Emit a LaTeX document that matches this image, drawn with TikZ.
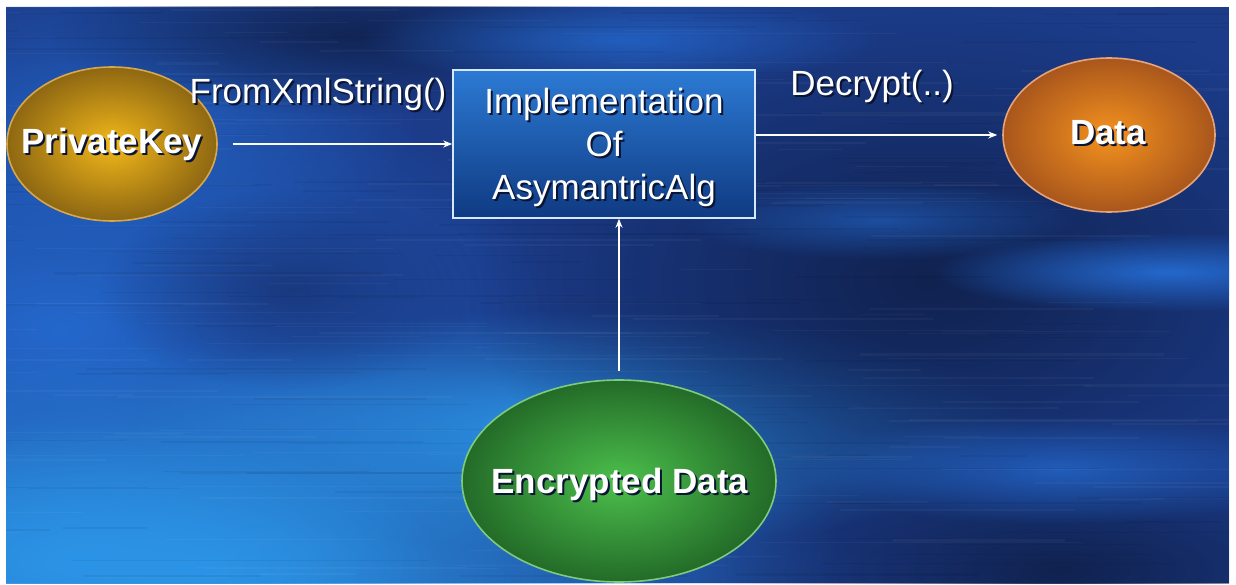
\documentclass[tikz,border=0pt]{standalone}
\usepackage{fontspec}
\setmainfont{Liberation Sans}
\usetikzlibrary{arrows.meta,fadings,shapes.geometric}

\definecolor{bgbase}{HTML}{1C3C8A}
\definecolor{bglight}{HTML}{2C94E6}
\definecolor{bgmid}{HTML}{2468CC}
\definecolor{bgdark}{HTML}{183274}
\definecolor{bgdeep}{HTML}{10224F}
\definecolor{txtshadow}{HTML}{0A1433}
\definecolor{boxtop}{HTML}{2C7AD4}
\definecolor{boxmid}{HTML}{3592EE}
\definecolor{boxbot}{HTML}{0F3A82}
\definecolor{boxedge}{HTML}{D4E8FF}
\definecolor{goldin}{HTML}{F2B81A}
\definecolor{goldout}{HTML}{8E6712}
\definecolor{goldedge}{HTML}{D8A848}
\definecolor{orangein}{HTML}{F4921E}
\definecolor{orangeout}{HTML}{A9561C}
\definecolor{orangeedge}{HTML}{E6A47A}
\definecolor{greenin}{HTML}{4CC04C}
\definecolor{greenout}{HTML}{236B28}
\definecolor{greenedge}{HTML}{7DCC7D}

% soft spot: opaque centre fading out to the rim
\tikzfading[name=softspot, inner color=transparent!0, outer color=transparent!100]

% white text with a dark drop shadow
\newcommand\shadowed[1]{\makebox[0pt][l]{\hspace{2pt}\raisebox{-2pt}{\textcolor{txtshadow}{#1}}}#1}

\tikzset{
  blob/.style={fill=#1, path fading=softspot},
  oval/.style={ellipse, inner sep=0pt, line width=1.6pt},
  algbox/.style={rectangle, inner sep=0pt, minimum width=302, minimum height=148,
    draw=boxedge, line width=1.5pt, top color=boxtop, middle color=boxmid, bottom color=boxbot},
  lbl/.style={text=white, inner sep=0pt, font=\fontsize{35}{43}\selectfont},
  boldlbl/.style={lbl, font=\fontsize{35}{43}\selectfont\bfseries},
  conn/.style={draw=white, line width=1.6pt, -{Stealth[length=9pt,width=7pt]}},
}

\begin{document}
\begin{tikzpicture}[x=1pt, y=-1pt]
\useasboundingbox (0,0) rectangle (1236,585);
\fill[white] (0,0) rectangle (1236,585);

% streaked blue backdrop
\begin{scope}
  \clip (6,7) rectangle (1229,583);
  \fill[bgbase] (6,7) rectangle (1229,583);
  \fill[blob=bgmid] (60,330) ellipse [x radius=500, y radius=280];
  \fill[blob=bgmid, opacity=0.7] (120,120) ellipse [x radius=300, y radius=150];
  \fill[blob=bglight] (200,570) ellipse [x radius=650, y radius=230];
  \fill[blob=bglight] (580,430) ellipse [x radius=450, y radius=120];
  \fill[blob=bglight] (80,560) ellipse [x radius=360, y radius=140];
  \fill[blob=bgdark, opacity=0.8] (290,290) ellipse [x radius=190, y radius=100];
  \fill[blob=bgdeep] (930,280) ellipse [x radius=460, y radius=280];
  \fill[blob=bgdeep] (1060,570) ellipse [x radius=360, y radius=120];
  \fill[blob=bgdeep, opacity=0.9] (350,35) ellipse [x radius=300, y radius=80];
  \fill[blob=bgmid] (1170,272) ellipse [x radius=240, y radius=40];
  \fill[blob=bgmid, opacity=0.8] (620,40) ellipse [x radius=260, y radius=45];
  \fill[blob=bgmid, opacity=0.8] (1060,470) ellipse [x radius=260, y radius=55];
  \fill[blob=bgmid, opacity=0.6] (880,220) ellipse [x radius=200, y radius=40];
  \pgfmathsetseed{11}
  \foreach \i in {1,...,160} {
    \pgfmathsetmacro\yy{7+rnd*576}
    \pgfmathsetmacro\xa{-100+rnd*1250}
    \pgfmathsetmacro\len{60+rnd*300}
    \pgfmathsetmacro\lw{0.6+rnd*1.8}
    \draw[white, opacity=0.035, line width=\lw pt] (\xa,\yy) -- ++(\len,0);
  }
  \foreach \i in {1,...,120} {
    \pgfmathsetmacro\yy{7+rnd*576}
    \pgfmathsetmacro\xa{-100+rnd*1250}
    \pgfmathsetmacro\len{60+rnd*300}
    \pgfmathsetmacro\lw{0.6+rnd*1.8}
    \draw[black, opacity=0.05, line width=\lw pt] (\xa,\yy) -- ++(\len,0);
  }
\end{scope}

% shapes
\node[oval, minimum width=210, minimum height=154, draw=goldedge,
      inner color=goldin, outer color=goldout] (pk) at (112,144) {};
\node[oval, minimum width=212, minimum height=154, draw=orangeedge,
      inner color=orangein, outer color=orangeout] (data) at (1109,135) {};
\node[oval, minimum width=314, minimum height=202, draw=greenedge,
      inner color=greenin, outer color=greenout] (enc) at (619,481) {};
\node[algbox] (box) at (604,144) {};

% texts
\node[boldlbl] (pktext) at (112,145) {\shadowed{PrivateKey}};
\node[boldlbl] (datatext) at (1108,134) {\shadowed{Data}};
\node[boldlbl] (enctext) at (620,485) {\shadowed{Encrypted Data}};
\node[lbl, align=center] (boxtext) at (604,148)
  {\shadowed{Implementation}\\\shadowed{Of}\\\shadowed{AsymantricAlg}};
\node[lbl] (fromxml) at (318,95) {\shadowed{FromXmlString()}};
\node[lbl] (decrypt) at (872,87) {\shadowed{Decrypt(..)}};

% connectors
\draw[conn, shorten <=15pt] (pk.east) -- (box.west);
\draw[conn, shorten >=5pt] (box.east |- data.west) -- (data.west);
\draw[conn, shorten <=8pt] (enc.north) -- (enc.north |- box.south);
\end{tikzpicture}
\end{document}
